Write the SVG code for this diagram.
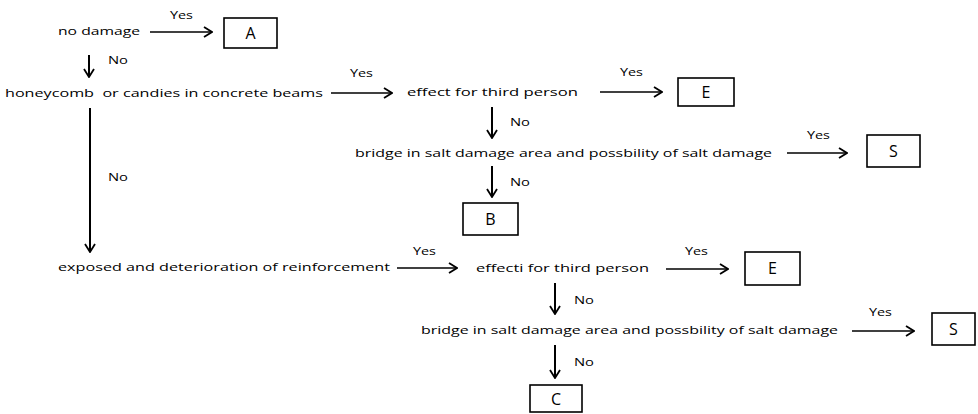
<svg xmlns="http://www.w3.org/2000/svg" width="978" height="414" viewBox="0 0 978 414">
<style>
text{font-family:"Open Sans","Liberation Sans",sans-serif;fill:#000}
.t{font-size:11.5px}
.l{font-size:10px}
.b{font-size:16px;text-anchor:middle}
rect{fill:#fff;stroke:#000;stroke-width:1.6}
.c line{stroke:#000;stroke-width:1.6;marker-end:url(#ah)}
.c line.v{stroke-width:2}
</style>
<defs>
<marker id="ah" markerUnits="userSpaceOnUse" viewBox="0 0 10 12" refX="9" refY="6" markerWidth="10" markerHeight="12" orient="auto">
<path d="M1,1 L9,6 L1,11" fill="none" stroke="#000" stroke-width="1.8"/>
</marker>
</defs>
<g class="c" id="connectors">
<line x1="150" y1="32" x2="212" y2="32"/>
<line class="v" x1="89" y1="55" x2="89" y2="77"/>
<line x1="331" y1="93" x2="392" y2="93"/>
<line x1="600" y1="92" x2="662" y2="92"/>
<line class="v" x1="492" y1="107" x2="492" y2="138"/>
<line x1="787" y1="153" x2="847" y2="153"/>
<line class="v" x1="492" y1="166" x2="492" y2="197"/>
<line class="v" x1="90" y1="108" x2="90" y2="252"/>
<line x1="397" y1="268" x2="457" y2="268"/>
<line x1="666" y1="269" x2="728" y2="269"/>
<line class="v" x1="555" y1="283" x2="555" y2="314"/>
<line x1="852" y1="331" x2="914" y2="331"/>
<line class="v" x1="555" y1="345" x2="555" y2="378"/>
<text class="l" x="170" y="19" textLength="23" lengthAdjust="spacingAndGlyphs">Yes</text>
<text class="l" x="108" y="64" textLength="20" lengthAdjust="spacingAndGlyphs">No</text>
<text class="l" x="350" y="77" textLength="23" lengthAdjust="spacingAndGlyphs">Yes</text>
<text class="l" x="620" y="76" textLength="23" lengthAdjust="spacingAndGlyphs">Yes</text>
<text class="l" x="510" y="126" textLength="20" lengthAdjust="spacingAndGlyphs">No</text>
<text class="l" x="807" y="139" textLength="23" lengthAdjust="spacingAndGlyphs">Yes</text>
<text class="l" x="510" y="186" textLength="20" lengthAdjust="spacingAndGlyphs">No</text>
<text class="l" x="108" y="181" textLength="20" lengthAdjust="spacingAndGlyphs">No</text>
<text class="l" x="413" y="255" textLength="23" lengthAdjust="spacingAndGlyphs">Yes</text>
<text class="l" x="685" y="255" textLength="23" lengthAdjust="spacingAndGlyphs">Yes</text>
<text class="l" x="574" y="304" textLength="20" lengthAdjust="spacingAndGlyphs">No</text>
<text class="l" x="869" y="316" textLength="23" lengthAdjust="spacingAndGlyphs">Yes</text>
<text class="l" x="574" y="366" textLength="20" lengthAdjust="spacingAndGlyphs">No</text>
</g>
<g id="q1"><text class="t" x="58" y="35" textLength="82" lengthAdjust="spacingAndGlyphs">no damage</text></g>
<g id="A"><rect x="224" y="18" width="53" height="30"/><text class="b" x="250.5" y="39">A</text></g>
<g id="q2"><text class="t" x="5" y="97" textLength="318" lengthAdjust="spacingAndGlyphs" xml:space="preserve">honeycomb  or candies in concrete beams</text></g>
<g id="q3"><text class="t" x="407" y="96" textLength="171" lengthAdjust="spacingAndGlyphs">effect for third person</text></g>
<g id="E1"><rect x="678" y="78" width="56" height="28"/><text class="b" x="706" y="98">E</text></g>
<g id="q4"><text class="t" x="355" y="157" textLength="417" lengthAdjust="spacingAndGlyphs">bridge in salt damage area and possbility of salt damage</text></g>
<g id="S1"><rect x="867" y="135" width="53" height="32"/><text class="b" x="893.5" y="157">S</text></g>
<g id="B"><rect x="463" y="203" width="55" height="32"/><text class="b" x="490.5" y="225">B</text></g>
<g id="q5"><text class="t" x="58" y="271" textLength="332" lengthAdjust="spacingAndGlyphs">exposed and deterioration of reinforcement</text></g>
<g id="q6"><text class="t" x="476" y="272" textLength="173" lengthAdjust="spacingAndGlyphs">effecti for third person</text></g>
<g id="E2"><rect x="745" y="252" width="55" height="33"/><text class="b" x="772.5" y="274">E</text></g>
<g id="q7"><text class="t" x="421" y="334" textLength="417" lengthAdjust="spacingAndGlyphs">bridge in salt damage area and possbility of salt damage</text></g>
<g id="S2"><rect x="932" y="313" width="43" height="32"/><text class="b" x="953.5" y="335">S</text></g>
<g id="C"><rect x="530" y="385" width="52" height="27"/><text class="b" x="556" y="405">C</text></g>
</svg>
